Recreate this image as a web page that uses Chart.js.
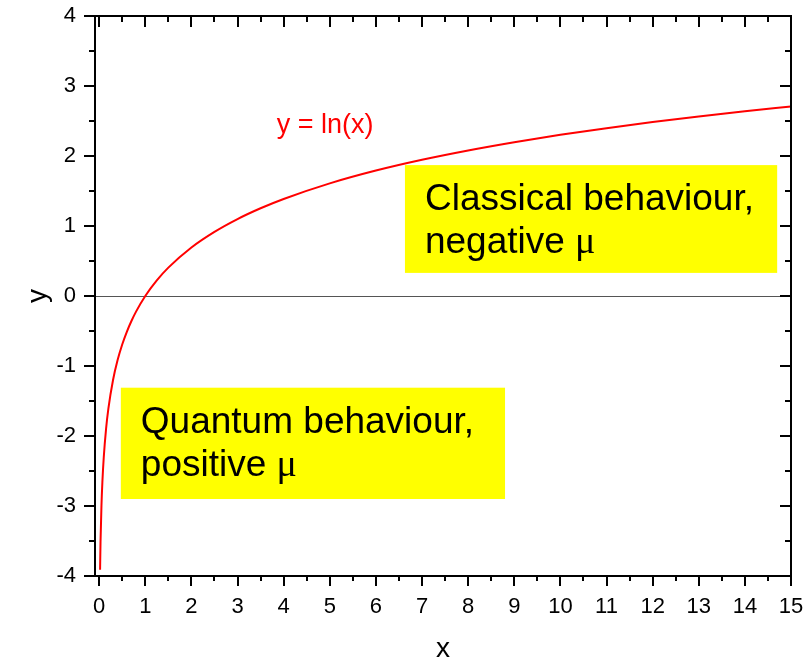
<!DOCTYPE html>
<html>
<head>
<meta charset="utf-8">
<script src="https://cdn.jsdelivr.net/npm/chart.js@4/dist/chart.umd.min.js"></script>
<style>
  html, body { margin: 0; padding: 0; background: #fff; }
</style>
</head>
<body>
<canvas id="myChart" width="807" height="661"></canvas>
<script>
// y = ln(x) sampled points
var xs = [0.02, 0.03, 0.05, 0.07, 0.1, 0.15, 0.2, 0.3, 0.4, 0.5, 0.6, 0.7, 0.8, 1, 1.25, 1.5, 2, 2.5, 3, 3.5, 4, 5, 6, 7, 8, 9, 10, 11, 12, 13, 14, 15];
var ys = [-3.912, -3.507, -2.996, -2.659, -2.303, -1.897, -1.609, -1.204, -0.916, -0.693, -0.511, -0.357, -0.223, 0, 0.223, 0.405, 0.693, 0.916, 1.099, 1.253, 1.386, 1.609, 1.792, 1.946, 2.079, 2.197, 2.303, 2.398, 2.485, 2.565, 2.639, 2.708];

var xTicks = [0, 1, 2, 3, 4, 5, 6, 7, 8, 9, 10, 11, 12, 13, 14, 15];
var yTicks = [-4, -3, -2, -1, 0, 1, 2, 3, 4];

var curveLabel = "y = ln(x)";
var curveLabelAt = [4.9, 2.44];

// text boxes: [xmin, xmax, ymax, ymin], lines, symbol appended to last line
var boxRanges = [[6.63, 14.70, 1.87, 0.33], [0.47, 8.80, -1.31, -2.90]];
var boxLines = [["Classical behaviour,", "negative "], ["Quantum behaviour,", "positive "]];
var boxSymbol = "\u03bc";

var sans = "'Liberation Sans', Arial, sans-serif";

var pts = xs.map(function (x, i) { return { x: x, y: ys[i] }; });

var decor = {
    id: 'decor',
    beforeDatasetsDraw: function (chart) {
        var ctx = chart.ctx, a = chart.chartArea;
        var y0 = chart.scales.y.getPixelForValue(0);
        ctx.save();
        ctx.strokeStyle = '#555';
        ctx.lineWidth = 1;
        ctx.beginPath();
        ctx.moveTo(a.left, y0 + 0.5);
        ctx.lineTo(a.right, y0 + 0.5);
        ctx.stroke();
        ctx.restore();
    },
    afterDatasetsDraw: function (chart) {
        var ctx = chart.ctx;
        var sx = chart.scales.x, sy = chart.scales.y;
        ctx.save();
        boxRanges.forEach(function (b, k) {
            var l = sx.getPixelForValue(b[0]), r = sx.getPixelForValue(b[1]);
            var t = sy.getPixelForValue(b[2]), btm = sy.getPixelForValue(b[3]);
            ctx.fillStyle = '#ffff00';
            ctx.fillRect(l, t, r - l, btm - t);
            ctx.fillStyle = '#000';
            ctx.textBaseline = 'alphabetic';
            ctx.textAlign = 'left';
            var lines = boxLines[k];
            lines.forEach(function (s, j) {
                var by = t + 45 + j * 43;
                ctx.font = '37px ' + sans;
                ctx.fillText(s, l + 20, by);
                if (j == lines.length - 1) {
                    var w = ctx.measureText(s).width;
                    ctx.font = "38px 'Liberation Serif', serif";
                    ctx.fillText(boxSymbol, l + 20 + w, by);
                }
            });
        });
        // curve label
        ctx.fillStyle = '#ff0000';
        ctx.font = '27px ' + sans;
        ctx.textAlign = 'center';
        ctx.textBaseline = 'middle';
        ctx.fillText(curveLabel, sx.getPixelForValue(curveLabelAt[0]), sy.getPixelForValue(curveLabelAt[1]));
        ctx.restore();
    },
    afterDraw: function (chart) {
        var ctx = chart.ctx, a = chart.chartArea;
        var sx = chart.scales.x, sy = chart.scales.y;
        ctx.save();
        ctx.strokeStyle = '#000';
        ctx.lineWidth = 2;
        ctx.strokeRect(a.left, a.top, a.right - a.left, a.bottom - a.top);
        ctx.beginPath();
        // x ticks: outward at bottom, inward at top
        for (var i = 0; i < xTicks.length; i++) {
            var v = xTicks[i];
            [v, v + 0.5].forEach(function (t, m) {
                if (t > sx.max) return;
                var p = Math.round(sx.getPixelForValue(t));
                var len = m == 0 ? 10 : 5;
                ctx.moveTo(p, a.bottom);
                ctx.lineTo(p, a.bottom + len);
                ctx.moveTo(p, a.top);
                ctx.lineTo(p, a.top + len + 1);
            });
        }
        // y ticks: outward at left, inward at right
        for (var j = 0; j < yTicks.length; j++) {
            var u = yTicks[j];
            [u, u + 0.5].forEach(function (t, m) {
                if (t > sy.max) return;
                var p = Math.round(sy.getPixelForValue(t));
                var len = m == 0 ? 11 : 6;
                ctx.moveTo(a.left, p);
                ctx.lineTo(a.left - len, p);
                ctx.moveTo(a.right, p);
                ctx.lineTo(a.right - len, p);
            });
        }
        ctx.stroke();
        ctx.restore();
    }
};

var ctx = document.getElementById("myChart").getContext('2d');
var myChart = new Chart(ctx, {
    type: 'scatter',
    data: {
        datasets: [{
            label: curveLabel,
            data: pts,
            showLine: true,
            borderColor: '#ff0000',
            borderWidth: 2,
            pointRadius: 0,
            cubicInterpolationMode: 'monotone',
            clip: false
        }]
    },
    options: {
        responsive: false,
        animation: false,
        layout: { padding: { top: 16, right: 16, left: 0, bottom: 0 } },
        plugins: { legend: { display: false }, tooltip: { enabled: false } },
        scales: {
            x: {
                type: 'linear',
                min: -0.09,
                max: 15,
                grid: { display: false, drawTicks: false },
                border: { display: false },
                afterBuildTicks: function (s) { s.ticks = xTicks.map(function (v) { return { value: v }; }); },
                afterFit: function (s) { s.height = 85; s.paddingLeft = 0; s.paddingRight = 0; },
                ticks: {
                    autoSkip: false, maxRotation: 0, padding: 18, color: '#000',
                    font: { family: sans, size: 22 }
                },
                title: { display: true, text: 'x', color: '#000', font: { family: sans, size: 28, lineHeight: 0.85 }, padding: 0 }
            },
            y: {
                min: -4,
                max: 4,
                grid: { display: false, drawTicks: false },
                border: { display: false },
                afterBuildTicks: function (s) { s.ticks = yTicks.map(function (v) { return { value: v }; }); },
                afterFit: function (s) { s.width = 95; s.paddingTop = 0; s.paddingBottom = 0; },
                ticks: {
                    autoSkip: false, padding: 19, color: '#000',
                    font: { family: sans, size: 22 }
                },
                title: { display: true, text: 'y', color: '#000', font: { family: sans, size: 28 }, padding: { top: 21, bottom: 0 } }
            }
        }
    },
    plugins: [decor]
});
</script>
</body>
</html>
